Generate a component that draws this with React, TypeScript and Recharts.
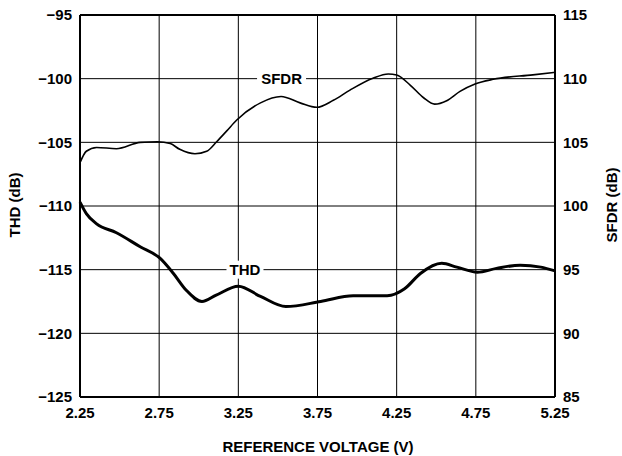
import React from "react";
import {
  LineChart,
  Line,
  XAxis,
  YAxis,
  CartesianGrid,
  ReferenceLine,
  ReferenceDot,
} from "recharts";

// values
const sfdrVoltage = [
  2.25, 2.29, 2.355, 2.48, 2.63, 2.74, 2.82, 2.88, 2.976, 3.05, 3.113, 3.177,
  3.24, 3.39, 3.52, 3.64, 3.745, 3.85, 3.955, 4.1, 4.197, 4.25, 4.335, 4.42,
  4.49, 4.566, 4.65, 4.745, 4.86, 5.11, 5.25,
];
const sfdrValues = [
  103.4, 104.3, 104.6, 104.5, 105.0, 105.05, 104.9, 104.45, 104.1, 104.3,
  105.05, 105.9, 106.75, 108.1, 108.6, 108.1, 107.75, 108.3, 109.1, 110.03,
  110.37, 110.29, 109.5, 108.5, 108.0, 108.27, 109.0, 109.58, 109.95, 110.3,
  110.5,
];

const thdVoltage = [
  2.25, 2.29, 2.355, 2.48, 2.63, 2.755, 2.84, 2.92, 3.02, 3.11, 3.25, 3.39,
  3.55, 3.77, 3.975, 4.19, 4.3, 4.4, 4.535, 4.63, 4.76, 4.88, 5.03, 5.16,
  5.25,
];
const thdValues = [
  -109.7, -110.6, -111.4, -112.1, -113.2, -114.1, -115.3, -116.6, -117.5,
  -117.0, -116.3, -117.1, -117.9, -117.5, -117.05, -117.05, -116.5, -115.3,
  -114.5, -114.8, -115.2, -114.9, -114.65, -114.8, -115.1,
];

const xTicks = [2.25, 2.75, 3.25, 3.75, 4.25, 4.75, 5.25];
const thdTicks = [-125, -120, -115, -110, -105, -100, -95];
const sfdrTicks = [85, 90, 95, 100, 105, 110, 115];

const sfdrData = sfdrVoltage.map((x, i) => ({ x, v: sfdrValues[i] }));
const thdData = thdVoltage.map((x, i) => ({ x, v: thdValues[i] }));

const FONT = "'Liberation Sans', Arial, Helvetica, sans-serif";
const tickStyle = {
  fill: "#000",
  fontSize: 15,
  fontWeight: "bold" as const,
  fontFamily: FONT,
};

const fmt = (v: number) => (v < 0 ? "\u2212" + Math.abs(v) : String(v));

function boxedLabel(text: string, boxWidth: number) {
  return (props: any) => {
    const { cx, cy } = props;
    return (
      <g>
        <rect x={cx - boxWidth / 2} y={cy - 9} width={boxWidth} height={18} fill="#fff" />
        <text
          x={cx}
          y={cy}
          dy="0.36em"
          textAnchor="middle"
          fontSize={15}
          fontWeight="bold"
          fontFamily={FONT}
          fill="#000"
        >
          {text}
        </text>
      </g>
    );
  };
}

const titleProps = {
  fontSize: 15,
  fontWeight: "bold" as const,
  fontFamily: FONT,
  fill: "#000",
  textAnchor: "middle" as const,
};

export default function App() {
  return (
    <div style={{ position: "absolute", left: 0, top: 0 }}>
      <LineChart
        width={622}
        height={456}
        margin={{ top: 15, right: 7, bottom: 29, left: 20 }}
      >
        <CartesianGrid yAxisId="thd" stroke="#000" strokeWidth={1} />
        <XAxis
          dataKey="x"
          type="number"
          domain={[2.25, 5.25]}
          ticks={xTicks}
          tickFormatter={(v: number) => v.toFixed(2)}
          tick={tickStyle}
          tickLine={false}
          tickMargin={4}
          axisLine={{ stroke: "#000", strokeWidth: 2 }}
          height={30}
          label={{
            content: () => (
              <text x={318} y={447} dy="0.36em" {...titleProps}>
                REFERENCE VOLTAGE (V)
              </text>
            ),
          }}
        />
        <YAxis
          yAxisId="thd"
          orientation="left"
          type="number"
          domain={[-125, -95]}
          ticks={thdTicks}
          tickFormatter={fmt}
          tick={tickStyle}
          tickLine={false}
          axisLine={{ stroke: "#000", strokeWidth: 2 }}
          width={60}
          label={{
            content: () => (
              <text
                x={15}
                y={205}
                dy="0.36em"
                transform="rotate(-90 15 205)"
                {...titleProps}
              >
                THD (dB)
              </text>
            ),
          }}
        />
        <YAxis
          yAxisId="sfdr"
          orientation="right"
          type="number"
          domain={[85, 115]}
          ticks={sfdrTicks}
          tick={tickStyle}
          tickLine={false}
          axisLine={{ stroke: "#000", strokeWidth: 2 }}
          width={60}
          label={{
            content: () => (
              <text
                x={612}
                y={205}
                dy="0.36em"
                transform="rotate(-90 612 205)"
                {...titleProps}
              >
                SFDR (dB)
              </text>
            ),
          }}
        />
        <ReferenceLine yAxisId="thd" y={-95} stroke="#000" strokeWidth={2} />
        <Line
          yAxisId="sfdr"
          data={sfdrData}
          dataKey="v"
          type="monotone"
          stroke="#000"
          strokeWidth={1.6}
          dot={false}
          isAnimationActive={false}
        />
        <Line
          yAxisId="thd"
          data={thdData}
          dataKey="v"
          type="monotone"
          stroke="#000"
          strokeWidth={3}
          dot={false}
          isAnimationActive={false}
        />
        <ReferenceDot
          yAxisId="thd"
          x={3.523}
          y={-100}
          r={0}
          shape={boxedLabel("SFDR", 49)}
        />
        <ReferenceDot
          yAxisId="thd"
          x={3.292}
          y={-115}
          r={0}
          shape={boxedLabel("THD", 37)}
        />
      </LineChart>
    </div>
  );
}
